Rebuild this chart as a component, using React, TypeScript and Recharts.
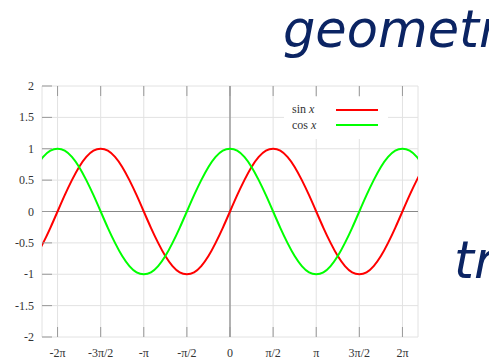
import React from "react";
import {
  LineChart,
  Line,
  XAxis,
  YAxis,
  CartesianGrid,
  ReferenceLine,
  Legend,
} from "recharts";

// x in radians, every 15 degrees; the outer few fall just past the plot edges and get clipped
const xValues = [
  -7.069, -6.807, -6.545, -6.283, -6.021, -5.76, -5.498, -5.236, -4.974, -4.712,
  -4.451, -4.189, -3.927, -3.665, -3.403, -3.142, -2.88, -2.618, -2.356, -2.094,
  -1.833, -1.571, -1.309, -1.047, -0.785, -0.524, -0.262, 0, 0.262, 0.524, 0.785,
  1.047, 1.309, 1.571, 1.833, 2.094, 2.356, 2.618, 2.88, 3.142, 3.403, 3.665,
  3.927, 4.189, 4.451, 4.712, 4.974, 5.236, 5.498, 5.76, 6.021, 6.283, 6.545,
  6.807, 7.069,
];

const sinValues = [
  -0.71, -0.5, -0.26, 0, 0.26, 0.5, 0.71, 0.87, 0.97, 1, 0.97, 0.87, 0.71, 0.5,
  0.26, 0, -0.26, -0.5, -0.71, -0.87, -0.97, -1, -0.97, -0.87, -0.71, -0.5,
  -0.26, 0, 0.26, 0.5, 0.71, 0.87, 0.97, 1, 0.97, 0.87, 0.71, 0.5, 0.26, 0,
  -0.26, -0.5, -0.71, -0.87, -0.97, -1, -0.97, -0.87, -0.71, -0.5, -0.26, 0,
  0.26, 0.5, 0.71,
];

const cosValues = [
  0.71, 0.87, 0.97, 1, 0.97, 0.87, 0.71, 0.5, 0.26, 0, -0.26, -0.5, -0.71,
  -0.87, -0.97, -1, -0.97, -0.87, -0.71, -0.5, -0.26, 0, 0.26, 0.5, 0.71, 0.87,
  0.97, 1, 0.97, 0.87, 0.71, 0.5, 0.26, 0, -0.26, -0.5, -0.71, -0.87, -0.97,
  -1, -0.97, -0.87, -0.71, -0.5, -0.26, 0, 0.26, 0.5, 0.71, 0.87, 0.97, 1,
  0.97, 0.87, 0.71,
];

const xTicks = [-6.283, -4.712, -3.142, -1.571, 0, 1.571, 3.142, 4.712, 6.283];
const xTickLabels = ["-2π", "-3π/2", "-π", "-π/2", "0", "π/2", "π", "3π/2", "2π"];
const yTicks = [-2, -1.5, -1, -0.5, 0, 0.5, 1, 1.5, 2];

const seriesNames = ["sin x", "cos x"];
const seriesColors = ["#ff0000", "#00ff00"];

const data = xValues.map((x, i) => ({ x, sin: sinValues[i], cos: cosValues[i] }));

const serif = '"Liberation Serif", "Times New Roman", serif';
const tickGray = "#999";

// gnuplot style: short tick marks pointing into the plot, label outside
const Tick = ({ x, y, payload, index, side, label }: any) => {
  const text = label ? label(payload.value, index) : null;
  if (side === "left")
    return (
      <g>
        <line x1={x} x2={x + 10} y1={y} y2={y} stroke={tickGray} />
        <text x={x - 8} y={y + 4} textAnchor="end" fontFamily={serif} fontSize={12} fill="#333">
          {text}
        </text>
      </g>
    );
  if (side === "right")
    return <line x1={x - 10} x2={x} y1={y} y2={y} stroke={tickGray} />;
  if (side === "top")
    return <line x1={x} x2={x} y1={y} y2={y + 10} stroke={tickGray} />;
  return (
    <g>
      <line x1={x} x2={x} y1={y - 10} y2={y} stroke={tickGray} />
      <text x={x} y={y + 19.5} textAnchor="middle" fontFamily={serif} fontSize={12} fill="#333">
        {text}
      </text>
    </g>
  );
};

const KeyBox = () => (
  <div
    style={{
      background: "#fff",
      padding: "5px 10px 6px 8px",
      fontFamily: serif,
      fontSize: 12,
      color: "#333",
    }}
  >
    {seriesNames.map((name, i) => {
      const [fn, arg] = name.split(" ");
      return (
        <div key={name} style={{ display: "flex", alignItems: "center", height: 15.5 }}>
          <span style={{ width: 44, whiteSpace: "nowrap" }}>
            {fn} <i>{arg}</i>
          </span>
          <span style={{ width: 42, height: 2, background: seriesColors[i] }} />
        </div>
      );
    })}
  </div>
);

export default function App() {
  return (
    <div
      style={{
        position: "absolute",
        left: 0,
        top: 0,
        width: 489,
        height: 358,
        background: "#fff",
        overflow: "hidden",
      }}
    >
      <LineChart
        width={489}
        height={358}
        data={data}
        margin={{ top: 76, right: 61, bottom: 0, left: 0 }}
      >
        <CartesianGrid stroke="#e2e2e2" />
        <XAxis
          dataKey="x"
          type="number"
          domain={[-6.85, 6.85]}
          ticks={xTicks}
          interval={0}
          allowDataOverflow
          height={21}
          axisLine={false}
          tickLine={false}
          tickSize={0}
          tickMargin={0}
          tick={<Tick side="bottom" label={(v: number, i: number) => xTickLabels[i]} />}
        />
        <XAxis
          xAxisId="t"
          orientation="top"
          dataKey="x"
          type="number"
          domain={[-6.85, 6.85]}
          ticks={xTicks}
          interval={0}
          allowDataOverflow
          height={10}
          axisLine={false}
          tickLine={false}
          tickSize={0}
          tickMargin={0}
          tick={<Tick side="top" />}
        />
        <YAxis
          type="number"
          domain={[-2, 2]}
          ticks={yTicks}
          interval={0}
          width={42}
          axisLine={false}
          tickLine={false}
          tickSize={0}
          tickMargin={0}
          tick={<Tick side="left" label={(v: number) => String(v)} />}
        />
        <YAxis
          yAxisId="r"
          orientation="right"
          type="number"
          domain={[-2, 2]}
          ticks={yTicks}
          interval={0}
          width={10}
          axisLine={false}
          tickLine={false}
          tickSize={0}
          tickMargin={0}
          tick={<Tick side="right" />}
        />
        <ReferenceLine x={0} stroke="#888" strokeWidth={1.2} />
        <ReferenceLine y={0} stroke="#888" strokeWidth={1.2} />
        <Legend
          layout="vertical"
          align="center"
          verticalAlign="middle"
          content={<KeyBox />}
          wrapperStyle={{ left: 284, top: 97, width: 104, height: "auto" }}
        />
        <Line
          name={seriesNames[0]}
          dataKey="sin"
          type="natural"
          stroke={seriesColors[0]}
          strokeWidth={2}
          dot={false}
          isAnimationActive={false}
        />
        <Line
          name={seriesNames[1]}
          dataKey="cos"
          type="natural"
          stroke={seriesColors[1]}
          strokeWidth={2}
          dot={false}
          isAnimationActive={false}
        />
      </LineChart>
      <svg
        width={489}
        height={358}
        style={{ position: "absolute", left: 0, top: 0, pointerEvents: "none" }}
      >
        <text
          x={283}
          y={47}
          fontFamily='"DejaVu Sans", Verdana, sans-serif'
          fontStyle="italic"
          fontSize={51}
          fill="#0b2463"
        >
          geometr
        </text>
        <text
          x={454}
          y={278}
          fontFamily='"DejaVu Sans", Verdana, sans-serif'
          fontStyle="italic"
          fontSize={51}
          fill="#0b2463"
        >
          tr
        </text>
      </svg>
    </div>
  );
}
